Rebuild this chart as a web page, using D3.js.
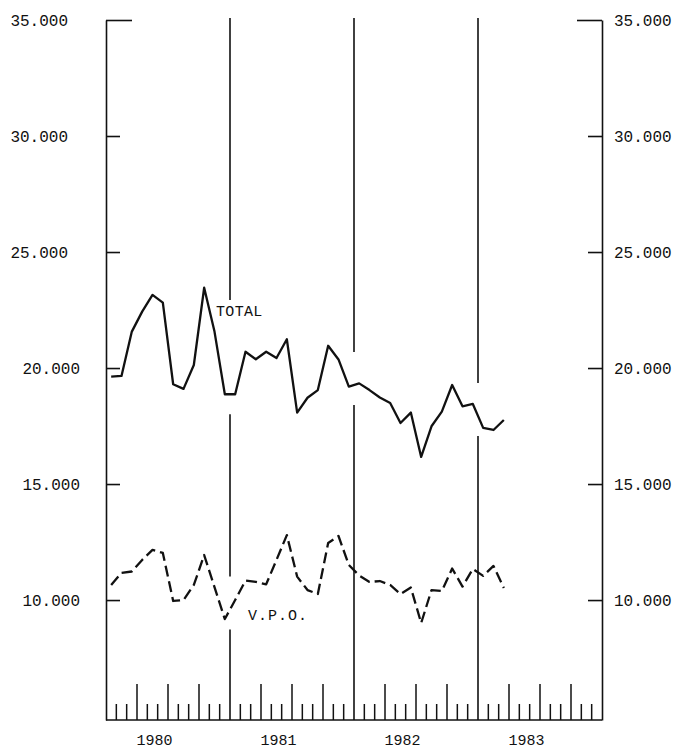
<!DOCTYPE html>
<html><head><meta charset="utf-8">
<script src="https://cdn.jsdelivr.net/npm/d3@7"></script>
<style>html,body{margin:0;padding:0;background:#fff}svg{display:block}</style>
</head><body>
<svg id="chart" width="676" height="750"></svg>
<script>
// ---------- DATA ----------
const periods = [
  "1980-01","1980-02","1980-03","1980-04","1980-05","1980-06","1980-07","1980-08","1980-09","1980-10","1980-11","1980-12",
  "1981-01","1981-02","1981-03","1981-04","1981-05","1981-06","1981-07","1981-08","1981-09","1981-10","1981-11","1981-12",
  "1982-01","1982-02","1982-03","1982-04","1982-05","1982-06","1982-07","1982-08","1982-09","1982-10","1982-11","1982-12",
  "1983-01","1983-02","1983-03"
];
const total = [
  19630, 19660, 21570, 22430, 23150, 22820, 19300, 19100, 20130, 23460, 21570, 18870,
  18870, 20700, 20380, 20700, 20430, 21240, 18080, 18720, 19050, 20960, 20370, 19200,
  19340, 19050, 18730, 18490, 17630, 18080, 16170, 17490, 18120, 19270, 18350, 18450,
  17420, 17330, 17760
];
const vpo = [
  10650, 11170, 11230, 11730, 12160, 12030, 9960, 10000, 10650, 11940, 10560, 9180,
  10000, 10840, 10780, 10680, 11730, 12800, 11010, 10430, 10260, 12460, 12760, 11510,
  11060, 10780, 10820, 10650, 10260, 10540, 9010, 10430, 10390, 11360, 10580, 11340,
  11040, 11470, 10520
];
const years = [1980, 1981, 1982, 1983];
const yTickValues = [10000, 15000, 20000, 25000, 30000, 35000];
const yTickLabels = ["10.000", "15.000", "20.000", "25.000", "30.000", "35.000"];
const seriesNames = ["TOTAL", "V.P.O."];
const labelPeriods = [10.65, 13.75];      // month position (axis units) of annotation start
const labelValues = [22240, 9140];         // value at annotation baseline
const gapSeriesByYearLine = [["TOTAL", "V.P.O."], ["TOTAL"], ["TOTAL"]];

// ---------- SCALES ----------
const svg = d3.select("#chart");
const ink = "#111";
const firstYear = years[0];
const nMonths = years.length * 12;
const x = d3.scaleLinear().domain([0, nMonths]).range([106, 602]);
const y = d3.scaleLinear().domain([4830, 35000]).range([720, 20]);
const monthPos = p => { const [yy, mm] = p.split("-").map(Number); return (yy - firstYear) * 12 + (mm - 1) + 0.5; };

const monoFont = "'Liberation Mono','DejaVu Sans Mono',monospace";

// ---------- Y AXES ----------
const fmt = v => yTickLabels[yTickValues.indexOf(v)];
const left = svg.append("g").attr("transform", `translate(${x(0)},0)`)
  .call(d3.axisLeft(y).tickValues(yTickValues).tickFormat(fmt).tickSize(-14).tickSizeOuter(0).tickPadding(26));
const right = svg.append("g").attr("transform", `translate(${x(nMonths)},0)`)
  .call(d3.axisRight(y).tickValues(yTickValues).tickFormat(fmt).tickSize(-14).tickSizeOuter(0).tickPadding(12));
[left, right].forEach(g => {
  g.select(".domain").attr("stroke", ink).attr("stroke-width", 1.6);
  g.selectAll(".tick line").attr("stroke", ink).attr("stroke-width", 1.6);
  g.selectAll(".tick text").attr("fill", ink).style("font-family", monoFont).style("font-size", "16px");
});
// top ticks drawn longer
left.selectAll(".tick").filter(d => d === 35000).select("line").attr("x2", 26);
right.selectAll(".tick").filter(d => d === 35000).select("line").attr("x2", -25);
// upper left labels sit further left in the original
left.selectAll(".tick text").attr("x", d => d >= 25000 ? -38 : -26);

// ---------- BOTTOM AXIS ----------
svg.append("line").attr("x1", x(0)).attr("x2", x(nMonths)).attr("y1", y.range()[0]).attr("y2", y.range()[0])
  .attr("stroke", ink).attr("stroke-width", 1.6);
const monthTicks = d3.range(1, nMonths).filter(k => k % 12 !== 0);
svg.append("g").selectAll("line").data(monthTicks).join("line")
  .attr("x1", k => x(k)).attr("x2", k => x(k))
  .attr("y1", y.range()[0]).attr("y2", k => y.range()[0] - (k % 3 === 0 ? 36 : 16))
  .attr("stroke", ink).attr("stroke-width", 1.5);
svg.append("g").selectAll("text").data(years).join("text")
  .attr("x", (d, i) => x(i * 12 + 4.7)).attr("y", 745)
  .attr("text-anchor", "middle").attr("fill", ink)
  .style("font-family", monoFont).style("font-size", "15px")
  .text(d => d);

// ---------- SERIES ----------
const line = d3.line().x((d, i) => x(monthPos(periods[i]))).y(d => y(d));
svg.append("path").datum(total).attr("d", line).attr("fill", "none")
  .attr("stroke", ink).attr("stroke-width", 2.3).attr("stroke-linejoin", "round");
svg.append("path").datum(vpo).attr("d", line).attr("fill", "none")
  .attr("stroke", ink).attr("stroke-width", 2.3).attr("stroke-linejoin", "round")
  .attr("stroke-dasharray", "11,5");

// ---------- LABELS ----------
const seriesData = { "TOTAL": total, "V.P.O.": vpo };
const labelSel = svg.append("g").selectAll("text").data(seriesNames).join("text")
  .attr("x", (d, i) => x(labelPeriods[i])).attr("y", (d, i) => y(labelValues[i]))
  .attr("fill", ink).style("font-family", monoFont)
  .style("font-size", "15px")
  .style("letter-spacing", (d, i) => i === 0 ? "0.3px" : "1px")
  .text(d => d);
const labelBoxes = labelSel.nodes().map(n => n.getBBox());

// ---------- YEAR LINES (interrupted around the curves) ----------
const padTop = 33, padBot = 20;
years.slice(1).forEach((yr, j) => {
  const k = (j + 1) * 12;
  const xp = x(k);
  let gaps = [];
  gapSeriesByYearLine[j].forEach(name => {
    const s = seriesData[name];
    const v = (s[k - 1] + s[k]) / 2;
    gaps.push([y(v) - padTop, y(v) + padBot]);
  });
  labelBoxes.forEach(b => {
    if (xp >= b.x - 2 && xp <= b.x + b.width + 2) gaps.push([b.y - 4, b.y + b.height + 4]);
  });
  gaps.sort((a, b) => a[0] - b[0]);
  const merged = [];
  gaps.forEach(g => {
    const last = merged[merged.length - 1];
    if (last && g[0] - last[1] < 60) last[1] = Math.max(last[1], g[1]);
    else merged.push(g.slice());
  });
  let start = 18;
  const segs = [];
  merged.forEach(g => { segs.push([start, g[0]]); start = g[1]; });
  segs.push([start, y.range()[0]]);
  svg.append("g").selectAll("line").data(segs).join("line")
    .attr("x1", xp).attr("x2", xp).attr("y1", d => d[0]).attr("y2", d => d[1])
    .attr("stroke", ink).attr("stroke-width", 1.6);
});
</script>
</body></html>
